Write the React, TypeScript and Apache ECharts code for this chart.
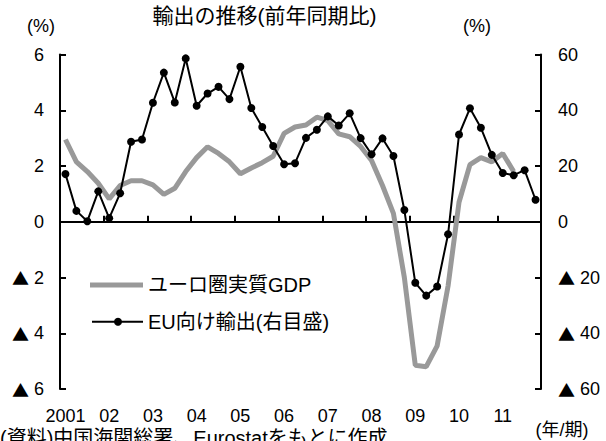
import React, { useEffect, useRef } from "react";
import * as echarts from "echarts";

const yearLabels = ["2001", "02", "03", "04", "05", "06", "07", "08", "09", "10", "11"];
const quarterNames = ["1", "2", "3", "4"];
const categories = yearLabels.flatMap((y) => quarterNames.map((q) => `${y}/${q}`));

// ユーロ圏実質GDP (前年同期比, %), 左目盛
const gdpValues = [
  2.95, 2.15, 1.8, 1.38, 0.82, 1.3, 1.47, 1.47, 1.32, 0.98, 1.2, 1.8,
  2.3, 2.69, 2.45, 2.15, 1.72, 1.93, 2.12, 2.35, 3.17, 3.4, 3.47, 3.75,
  3.63, 3.15, 3.05, 2.7, 2.2, 1.3, 0.3, -2.0, -5.15, -5.2, -4.45, -2.3,
  0.7, 2.05, 2.3, 2.15, 2.45, 1.8,
];

// EU向け輸出 (前年同期比, %), 右目盛
const euExportValues = [
  17.1, 3.9, 0.2, 10.9, 1.3, 10.2, 28.7, 29.5, 42.7, 53.5, 42.8, 58.6,
  41.6, 46.0, 48.4, 44.0, 55.6, 40.8, 34.0, 27.2, 20.6, 21.0, 30.1, 33.0,
  37.8, 34.5, 38.9, 30.0, 24.2, 29.9, 23.6, 4.2, -21.9, -26.5, -23.2, -4.5,
  31.3, 40.7, 33.7, 24.0, 17.5, 16.7, 18.5, 7.9,
];

const seriesNames = ["ユーロ圏実質GDP", "EU向け輸出(右目盛)"];

const FONT = "'Liberation Sans', 'Noto Sans CJK JP', sans-serif";
const CJK = "'Noto Sans CJK JP', sans-serif";

const triFmt = (v: number) => (v < 0 ? "{t|▲} " + Math.abs(v) : String(v));
const triRich = { t: { fontFamily: CJK, fontSize: 17, color: "#000" } };

export default function App() {
  const ref = useRef<HTMLDivElement>(null);
  useEffect(() => {
    if (!ref.current) return;
    const chart = echarts.init(ref.current, undefined, { renderer: "svg" });
    const axisLineStyle = { color: "#000", width: 2 };
    const txt = (x: number, y: number, text: string, fontSize: number, align = "center", verticalAlign = "middle") => ({
      type: "text",
      x,
      y,
      style: { text, fontSize, fontFamily: FONT, fill: "#000", align, verticalAlign },
    });
    chart.setOption({
      animation: false,
      backgroundColor: "#fff",
      textStyle: { fontFamily: FONT },
      grid: { left: 60, right: 65, top: 54.5, bottom: 52, containLabel: false },
      xAxis: [
        {
          type: "category",
          data: categories,
          boundaryGap: true,
          position: "bottom",
          axisLine: { show: true, onZero: true, onZeroAxisIndex: 0, lineStyle: axisLineStyle },
          axisTick: { show: true, inside: true, interval: 3, length: 6, lineStyle: axisLineStyle },
          axisLabel: { show: false },
          splitLine: { show: false },
        },
        {
          type: "category",
          data: categories,
          boundaryGap: true,
          position: "bottom",
          axisLine: { show: false, onZero: false },
          axisTick: { show: false },
          axisLabel: {
            interval: 3,
            margin: 18,
            fontSize: 18,
            color: "#000",
            fontFamily: FONT,
            formatter: (v: string) => v.split("/")[0],
          },
          splitLine: { show: false },
        },
      ],
      yAxis: [
        {
          type: "value",
          min: -6,
          max: 6,
          interval: 2,
          position: "left",
          axisLine: { show: true, onZero: false, lineStyle: axisLineStyle },
          axisTick: { show: true, inside: true, length: 6, lineStyle: axisLineStyle },
          axisLabel: { margin: 16, fontSize: 18, color: "#000", fontFamily: FONT, formatter: triFmt, rich: triRich },
          splitLine: { show: false },
        },
        {
          type: "value",
          min: -60,
          max: 60,
          interval: 20,
          position: "right",
          axisLine: { show: true, onZero: false, lineStyle: axisLineStyle },
          axisTick: { show: true, inside: true, length: 6, lineStyle: axisLineStyle },
          axisLabel: { margin: 17, fontSize: 18, color: "#000", fontFamily: FONT, formatter: triFmt, rich: triRich },
          splitLine: { show: false },
        },
      ],
      series: [
        {
          name: seriesNames[0],
          type: "line",
          xAxisIndex: 0,
          yAxisIndex: 0,
          data: gdpValues,
          symbol: "none",
          lineStyle: { color: "#999999", width: 5 },
          itemStyle: { color: "#999999" },
          z: 2,
        },
        {
          name: seriesNames[1],
          type: "line",
          xAxisIndex: 0,
          yAxisIndex: 1,
          data: euExportValues,
          symbol: "circle",
          symbolSize: 8,
          showSymbol: true,
          showAllSymbol: true,
          lineStyle: { color: "#000", width: 2 },
          itemStyle: { color: "#000" },
          z: 3,
        },
      ],
      graphic: [
        txt(264.5, 15, "輸出の推移(前年同期比)", 21),
        txt(41, 26, "(%)", 18),
        txt(477, 26, "(%)", 18),
        txt(562, 430, "(年/期)", 18),
        txt(0, 428, "(資料)中国海関総署、Eurostatをもとに作成", 20, "left", "top"),
        // legend
        { type: "line", shape: { x1: 90, y1: 285, x2: 143, y2: 285 }, style: { stroke: "#999999", lineWidth: 5 } },
        txt(148, 285, seriesNames[0], 20, "left", "middle"),
        { type: "line", shape: { x1: 92, y1: 321.7, x2: 143, y2: 321.7 }, style: { stroke: "#000", lineWidth: 2 } },
        { type: "circle", shape: { cx: 118, cy: 321.7, r: 4 }, style: { fill: "#000" } },
        txt(148, 321.7, seriesNames[1], 20, "left", "middle"),
      ],
    });
    return () => chart.dispose();
  }, []);
  return <div ref={ref} style={{ position: "fixed", left: 0, top: 0, width: 606, height: 441 }} />;
}
